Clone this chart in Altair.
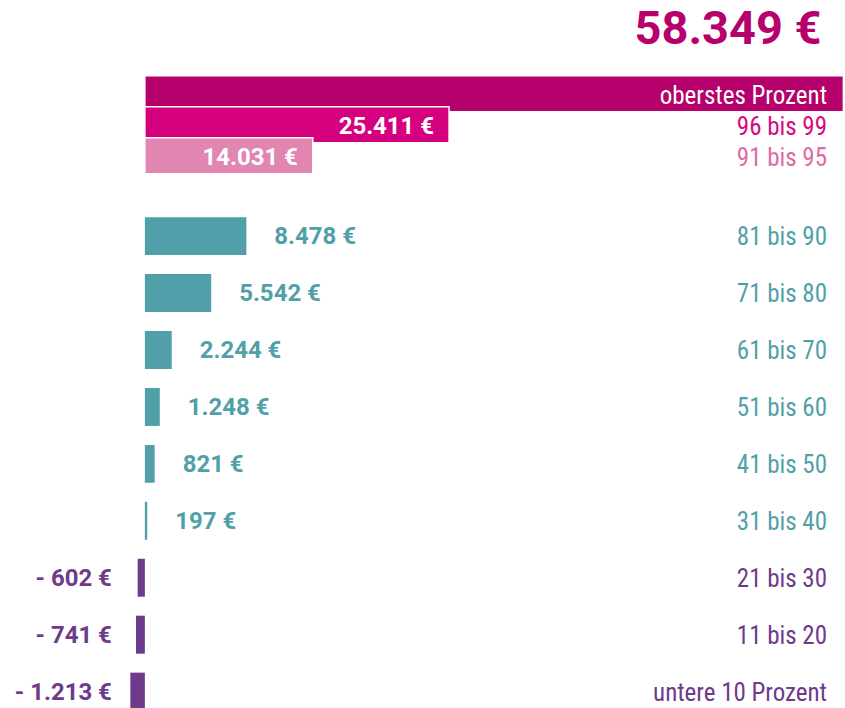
import altair as alt
import pandas as pd

# ---- data ----
top_labels = ["oberstes Prozent", "96 bis 99", "91 bis 95"]
top_values = [58349, 25411, 14031]

bottom_labels = ["81 bis 90", "71 bis 80", "61 bis 70", "51 bis 60", "41 bis 50",
                 "31 bis 40", "21 bis 30", "11 bis 20", "untere 10 Prozent"]
bottom_values = [8478, 5542, 2244, 1248, 821, 197, -602, -741, -1213]

# ---- styles ----
W = 845
BAR_COLORS_TOP = ["#B6006B", "#D5007D", "#E086B1"]
TEXT_COLORS_TOP = ["#FFFFFF", "#D9087F", "#E06AA6"]
TEAL = "#519FA8"
PURPLE = "#6E3A8A"
NUM_FONT = "Roboto"
LAB_FONT = "Liberation Sans Narrow, Roboto Condensed, DejaVu Sans Condensed, sans-serif"


def fmt(v):
    s = f"{abs(v):,}".replace(",", ".") + " €"
    return ("- " + s) if v < 0 else s


top = pd.DataFrame({"cat": top_labels, "value": top_values})
top["label"] = [fmt(v) for v in top_values]
top["order"] = range(len(top))

bot = pd.DataFrame({"cat": bottom_labels, "value": bottom_values})
bot["label"] = [fmt(v) for v in bottom_values]
bot["grp"] = ["pos" if v >= 0 else "neg" for v in bottom_values]

xscale = alt.Scale(domain=[-12100, 58400], nice=False, zero=False)

# ---- top panel ----
ytop = alt.Y("cat:N", sort=top_labels, axis=None,
             scale=alt.Scale(paddingInner=0, paddingOuter=0))
base_top = alt.Chart(top)

top_bars = base_top.mark_bar(size=36, stroke="white", strokeWidth=1.5).encode(
    x=alt.X("value:Q", scale=xscale, axis=None),
    y=ytop,
    color=alt.Color("cat:N", scale=alt.Scale(domain=top_labels, range=BAR_COLORS_TOP), legend=None),
    order=alt.Order("order:Q"),
)

top_title = base_top.transform_filter(alt.datum.order == 0).mark_text(
    align="right", baseline="middle", dx=-22, dy=-64, fontSize=47,
    font=NUM_FONT, fontWeight="bold", color="#B6006B",
).encode(x=alt.X("value:Q", scale=xscale), y=ytop, text="label:N")

top_inner = base_top.transform_filter(alt.datum.order > 0).mark_text(
    align="right", baseline="middle", dx=-15, dy=2, fontSize=24,
    font=NUM_FONT, fontWeight="bold", color="white",
).encode(x=alt.X("value:Q", scale=xscale), y=ytop, text="label:N")

top_right = base_top.mark_text(
    align="right", baseline="middle", dy=2, fontSize=25, font=LAB_FONT,
).encode(
    x=alt.value(W - 17), y=ytop, text="cat:N",
    color=alt.Color("cat:N", scale=alt.Scale(domain=top_labels, range=TEXT_COLORS_TOP), legend=None),
)

top_chart = alt.layer(top_bars, top_title, top_inner, top_right).resolve_scale(
    color="independent"
).properties(width=W, height=93)

# ---- bottom panel ----
ybot = alt.Y("cat:N", sort=bottom_labels, axis=None,
             scale=alt.Scale(paddingInner=0, paddingOuter=0))
gcolor = alt.Color("grp:N", scale=alt.Scale(domain=["pos", "neg"], range=[TEAL, PURPLE]), legend=None)
base_bot = alt.Chart(bot)

bot_bars = base_bot.mark_bar(size=38).encode(
    x=alt.X("value:Q", scale=xscale, axis=None),
    y=ybot, color=gcolor,
)

pos_labels = base_bot.transform_filter(alt.datum.value >= 0).mark_text(
    align="left", baseline="middle", dx=28, dy=1, fontSize=24,
    font=NUM_FONT, fontWeight="bold",
).encode(x=alt.X("value:Q", scale=xscale), y=ybot, text="label:N", color=gcolor)

neg_labels = base_bot.transform_filter(alt.datum.value < 0).mark_text(
    align="right", baseline="middle", dy=1, fontSize=24,
    font=NUM_FONT, fontWeight="bold",
).encode(x=alt.value(112), y=ybot, text="label:N", color=gcolor)

bot_right = base_bot.mark_text(
    align="right", baseline="middle", dy=1, fontSize=25, font=LAB_FONT,
).encode(x=alt.value(W - 17), y=ybot, text="cat:N", color=gcolor)

bot_chart = alt.layer(bot_bars, pos_labels, neg_labels, bot_right).properties(
    width=W, height=9 * 57
)

chart = alt.vconcat(top_chart, bot_chart, spacing=32.5).properties(
    padding={"top": 5, "left": 0, "right": 0, "bottom": 0},
    background="white",
).configure_view(stroke=None)

chart.save("out.html", embed_options={"renderer": "svg", "actions": False})
